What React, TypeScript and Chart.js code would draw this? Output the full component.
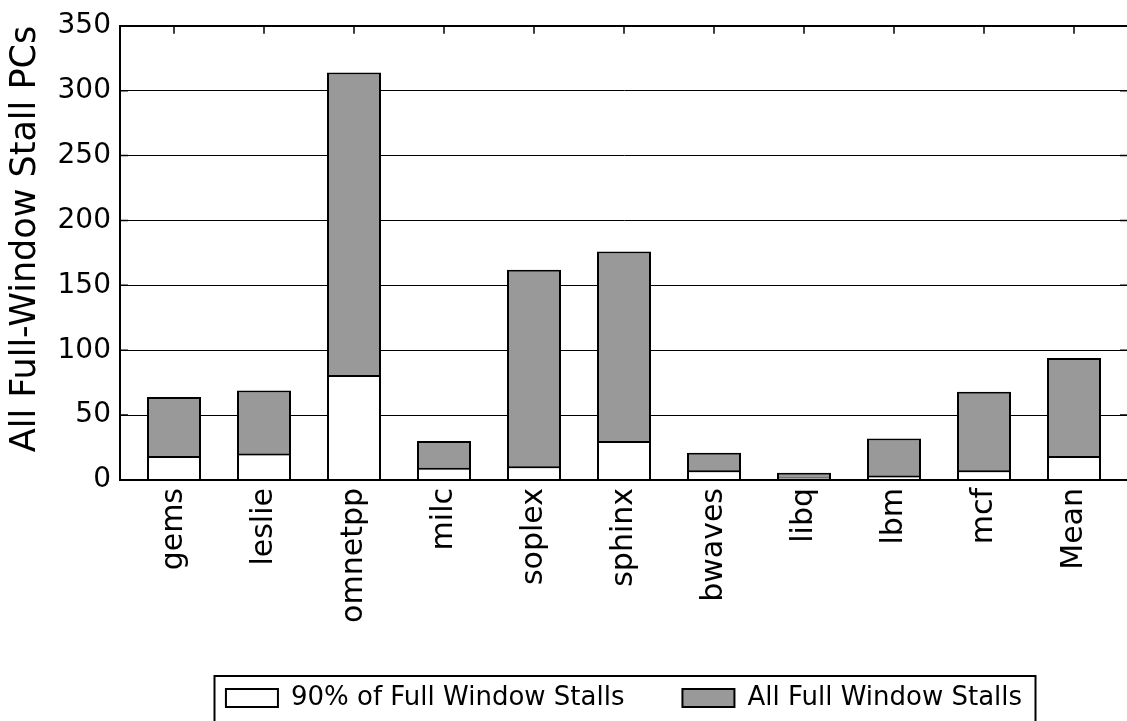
import React, { useEffect, useRef } from 'react';
import { Chart, registerables } from 'chart.js';

Chart.register(...registerables);

const categories = ['gems', 'leslie', 'omnetpp', 'milc', 'soplex', 'sphinx', 'bwaves', 'libq', 'lbm', 'mcf', 'Mean'];
const ninetyPctStalls = [18.5, 20.5, 81, 9.5, 10.5, 30, 7.5, 2, 3.5, 7.5, 18.5];
const allStalls = [64, 69, 314, 30, 162, 176, 21, 5.5, 32, 68, 94];
const seriesNames = ['90% of Full Window Stalls', 'All Full Window Stalls'];
const yAxisTitle = 'All Full-Window Stall PCs';
const yMin = 0;
const yMax = 350;
const yStep = 50;

const FONT = "'DejaVu Sans', sans-serif";

const inwardTicks = {
  id: 'inwardTicks',
  afterDatasetsDraw(chart: any) {
    const { ctx, chartArea, scales } = chart;
    const len = 8;
    ctx.save();
    ctx.strokeStyle = '#000';
    ctx.lineWidth = 1.5;
    ctx.beginPath();
    scales.x.ticks.forEach((t: any) => {
      const px = scales.x.getPixelForValue(t.value);
      ctx.moveTo(px, chartArea.top);
      ctx.lineTo(px, chartArea.top + len);
    });
    scales.y.ticks.forEach((t: any) => {
      const py = scales.y.getPixelForValue(t.value);
      ctx.moveTo(chartArea.left, py);
      ctx.lineTo(chartArea.left + len, py);
      ctx.moveTo(chartArea.right, py);
      ctx.lineTo(chartArea.right - len, py);
    });
    ctx.stroke();
    ctx.lineWidth = 2;
    ctx.beginPath();
    ctx.moveTo(chartArea.right, chartArea.top);
    ctx.lineTo(chartArea.right, chartArea.bottom);
    ctx.moveTo(chartArea.left, chartArea.bottom);
    ctx.lineTo(chartArea.right, chartArea.bottom);
    ctx.stroke();
    ctx.restore();
  },
};

const legendFrame = {
  id: 'legendFrame',
  afterDraw(chart: any) {
    const legend = chart.legend;
    if (!legend || !legend.legendHitBoxes || legend.legendHitBoxes.length === 0) return;
    const boxes = legend.legendHitBoxes;
    const first = boxes[0];
    const last = boxes[boxes.length - 1];
    const { ctx } = chart;
    const left = first.left - 12;
    const right = last.left + last.width + 13;
    const top = first.top + first.height / 2 - 22.5;
    ctx.save();
    ctx.strokeStyle = '#000';
    ctx.lineWidth = 2;
    ctx.strokeRect(Math.round(left) + 0.5, Math.round(top), Math.round(right - left), 200);
    ctx.restore();
  },
};

export default function App() {
  const canvasRef = useRef<HTMLCanvasElement | null>(null);

  useEffect(() => {
    const canvas = canvasRef.current;
    if (!canvas) return;
    const chart = new Chart(canvas, {
      type: 'bar',
      data: {
        datasets: [
          {
            label: seriesNames[0],
            data: ninetyPctStalls.map((v, i) => ({ x: i, y: v })),
            backgroundColor: '#ffffff',
            borderColor: '#000000',
            borderWidth: 2,
            borderSkipped: 'start',
          },
          {
            label: seriesNames[1],
            data: allStalls.map((v, i) => ({ x: i, y: v })),
            backgroundColor: '#999999',
            borderColor: '#000000',
            borderWidth: 2,
            borderSkipped: 'start',
          },
        ],
      },
      options: {
        responsive: false,
        animation: false,
        devicePixelRatio: 1,
        grouped: false,
        barPercentage: 0.6,
        categoryPercentage: 1.0,
        layout: { padding: { top: 22, right: 12, left: 0, bottom: 0 } },
        scales: {
          x: {
            type: 'linear',
            offset: false,
            min: -0.6,
            max: categories.length - 0.4,
            afterBuildTicks: (scale: any) => {
              scale.ticks = categories.map((_, i) => ({ value: i }));
            },
            afterFit: (scale: any) => {
              scale.height = 147;
            },
            ticks: {
              autoSkip: false,
              minRotation: 90,
              maxRotation: 90,
              padding: 8,
              color: '#000',
              font: { family: FONT, size: 30 },
              callback: (value: any) => categories[Math.round(Number(value))] ?? '',
            },
            grid: { display: false, drawTicks: false },
            border: { display: true, color: '#000', width: 2 },
          },
          y: {
            min: yMin,
            max: yMax,
            afterFit: (scale: any) => {
              scale.width = 120;
            },
            ticks: {
              stepSize: yStep,
              padding: 9,
              color: '#000',
              font: { family: FONT, size: 28 },
            },
            grid: {
              color: (ctx: any) => (ctx.tick && ctx.tick.value === yMin ? 'rgba(0,0,0,0)' : '#000'),
              lineWidth: (ctx: any) => (ctx.tick && ctx.tick.value === yMax ? 2 : 1),
              drawTicks: false,
            },
            border: { display: true, color: '#000', width: 2 },
            title: {
              display: true,
              text: yAxisTitle,
              align: 'end',
              color: '#000',
              font: { family: FONT, size: 35 },
              padding: { top: 5, bottom: 4 },
            },
          },
        },
        plugins: {
          legend: {
            position: 'bottom',
            fullSize: false,
            labels: {
              boxWidth: 52,
              boxHeight: 18,
              padding: 58,
              color: '#000',
              font: { family: FONT, size: 26 },
            },
          },
          tooltip: { enabled: false },
        },
      },
      plugins: [inwardTicks, legendFrame],
    } as any);
    return () => chart.destroy();
  }, []);

  return (
    <div style={{ position: 'absolute', left: 0, top: 0, width: 1127, height: 721, overflow: 'hidden', background: '#fff' }}>
      <canvas ref={canvasRef} width={1140} height={721} style={{ display: 'block' }} />
    </div>
  );
}
